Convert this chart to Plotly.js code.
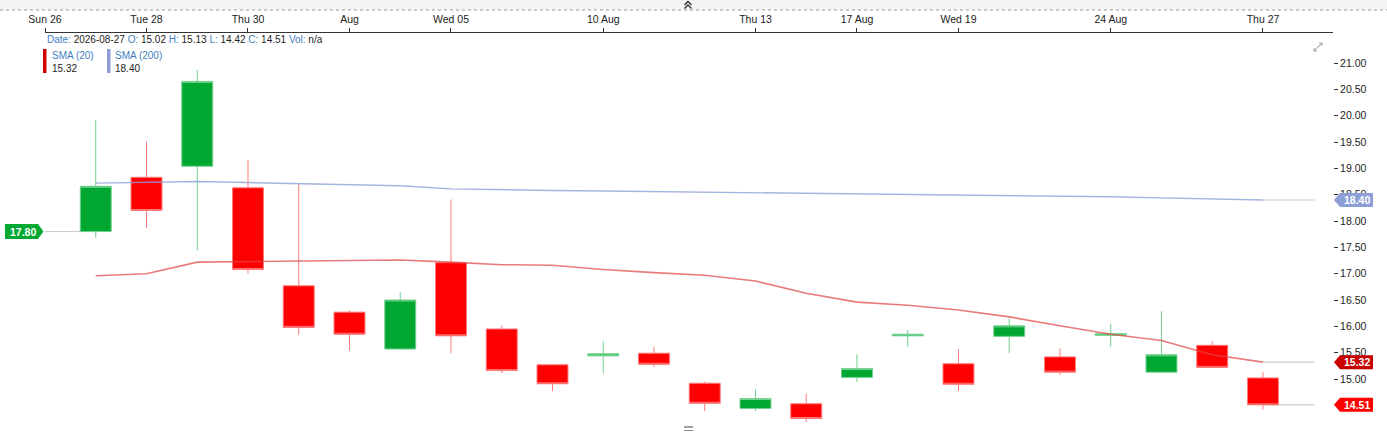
<!DOCTYPE html>
<html>
<head>
<meta charset="utf-8">
<script src="https://cdn.plot.ly/plotly-3.0.1.min.js"></script>
<style>
html,body{margin:0;padding:0;background:#fff;}
#chart{width:1387px;height:432px;}
</style>
</head>
<body>
<div id="chart"></div>
<script>
// ---- data ----
const slots = ['2026-07-26','2026-07-27','2026-07-28','2026-07-29','2026-07-30','2026-07-31',
  '2026-08-03','2026-08-04','2026-08-05','2026-08-06','2026-08-07',
  '2026-08-10','2026-08-11','2026-08-12','2026-08-13','2026-08-14',
  '2026-08-17','2026-08-18','2026-08-19','2026-08-20','2026-08-21',
  '2026-08-24','2026-08-25','2026-08-26','2026-08-27'];
const dates = slots.slice(1);
const openV  = [17.80,18.83,19.04,18.63,16.77,16.27,15.57,17.21,15.95,15.27,15.44,15.49,14.92,14.44,14.53,15.03,15.82,15.29,15.81,15.42,15.83,15.13,15.64,15.02];
const highV  = [19.92,19.51,20.87,19.16,18.70,16.30,16.65,18.41,16.01,15.28,15.72,15.61,14.95,14.80,14.72,15.47,15.93,15.57,16.15,15.58,16.05,16.29,15.72,15.13];
const lowV   = [17.68,17.87,17.44,17.00,15.84,15.54,15.55,15.49,15.11,14.77,15.11,15.23,14.39,14.39,14.18,14.94,15.61,14.77,15.49,15.08,15.61,15.12,15.21,14.42];
const closeV = [18.66,18.20,20.65,17.08,15.98,15.85,16.50,15.82,15.16,14.91,15.48,15.28,14.54,14.63,14.25,15.20,15.85,14.90,16.01,15.13,15.86,15.46,15.22,14.51];
const sma20  = [16.96,17.00,17.22,17.23,17.23,17.24,17.26,17.22,17.17,17.16,17.08,17.02,16.97,16.86,16.63,16.46,16.40,16.31,16.18,16.01,15.85,15.73,15.46,15.32];
const sma200 = [18.72,18.74,18.75,18.73,18.71,18.69,18.67,18.61,18.59,18.58,18.57,18.56,18.55,18.54,18.53,18.52,18.51,18.50,18.49,18.48,18.46,18.44,18.42,18.40];
const tickDates = ['2026-07-26','2026-07-28','2026-07-30','2026-08-03','2026-08-05','2026-08-10','2026-08-13','2026-08-17','2026-08-19','2026-08-24','2026-08-27'];
const tickText  = ['Sun 26','Tue 28','Thu 30','Aug','Wed 05','10 Aug','Thu 13','17 Aug','Wed 19','24 Aug','Thu 27'];
const yTicks = [15.0,15.5,16.0,16.5,17.0,17.5,18.0,18.5,19.0,19.5,20.0,20.5,21.0];

// ---- layout helpers ----
const L=45, R=1333, T=33, B=432;
const YMIN=13.994, YMAX=21.57;
const px = x => (x-L)/(R-L);
const py = y => (B-y)/(B-T);
const pv = v => (v-YMIN)/(YMAX-YMIN);
const idx = d => slots.indexOf(d);
const xs = dates.map(idx);
const n = dates.length;
const last = n-1;

const GREEN='#00a832', RED='#ff0000';
const LBL='#3f7fbf';
const FONT='Liberation Sans, Arial, sans-serif';

const traces = [
  {type:'candlestick', x:xs, open:openV, high:highV, low:lowV, close:closeV,
   increasing:{fillcolor:GREEN, line:{color:'#74d190', width:1}},
   decreasing:{fillcolor:RED, line:{color:'#ff7a7a', width:1}},
   whiskerwidth:0, hoverinfo:'skip', showlegend:false},
  {type:'scatter', mode:'lines', x:xs, y:sma20, line:{color:'rgba(225,70,70,0.72)', width:1.6}, hoverinfo:'skip', showlegend:false},
  {type:'scatter', mode:'lines', x:xs, y:sma200, line:{color:'rgba(140,160,215,0.8)', width:1.4}, hoverinfo:'skip', showlegend:false}
];

const shapes = [];
const annotations = [];

// top band + dashed line
shapes.push({type:'rect', xref:'paper', yref:'paper', x0:px(0), x1:px(1387), y0:py(10), y1:py(0), fillcolor:'#f4f4f4', line:{width:0}, layer:'below'});
shapes.push({type:'line', xref:'paper', yref:'paper', x0:px(0), x1:px(1387), y0:py(10), y1:py(10), line:{color:'#999', width:1, dash:'3px,3px'}});
// chevrons
shapes.push({type:'path', xref:'paper', yref:'paper',
  path:`M${px(684.5)},${py(5)} L${px(688)},${py(1.5)} L${px(691.5)},${py(5)} M${px(684.5)},${py(8.5)} L${px(688)},${py(5)} L${px(691.5)},${py(8.5)}`,
  line:{color:'#333', width:1.4}});
// bottom handle
shapes.push({type:'line', xref:'paper', yref:'paper', x0:px(684), x1:px(693), y0:py(427), y1:py(427), line:{color:'#444', width:1}});
shapes.push({type:'line', xref:'paper', yref:'paper', x0:px(684), x1:px(693), y0:py(430.5), y1:py(430.5), line:{color:'#888', width:1}});
// expand icon
shapes.push({type:'path', xref:'paper', yref:'paper',
  path:`M${px(1314)},${py(51)} L${px(1322)},${py(43)} M${px(1314)},${py(51)} L${px(1314)},${py(48)} M${px(1314)},${py(51)} L${px(1317)},${py(51)} M${px(1322)},${py(43)} L${px(1319)},${py(43)} M${px(1322)},${py(43)} L${px(1322)},${py(46)}`,
  line:{color:'#999', width:1}});

// legend bars
shapes.push({type:'rect', xref:'paper', yref:'paper', x0:px(43), x1:px(46.5), y0:py(73), y1:py(49), fillcolor:'#d00000', line:{width:0}});
shapes.push({type:'rect', xref:'paper', yref:'paper', x0:px(107), x1:px(110.5), y0:py(73), y1:py(49), fillcolor:'#8c9fd6', line:{width:0}});

// price extension lines
const extLine = v => ({type:'line', xref:'x', yref:'y', x0:xs[last], x1:xs[last]+1.02, y0:v, y1:v, line:{color:'#d8d8d8', width:1.5}, layer:'below'});
shapes.push(extLine(sma200[last]));
shapes.push(extLine(sma20[last]));
shapes.push(extLine(closeV[last]));
shapes.push({type:'line', xref:'x', yref:'y', x0:-0.04, x1:xs[0], y0:openV[0], y1:openV[0], line:{color:'#c8c8c8', width:1}, layer:'below'});

// right badges
function rightBadge(v, color){
  const yc = pv(v), h = 7/(B-T);
  shapes.push({type:'path', xref:'paper', yref:'paper',
    path:`M${px(1334)},${yc} L${px(1340)},${yc+h} L${px(1373)},${yc+h} L${px(1373)},${yc-h} L${px(1340)},${yc-h} Z`,
    fillcolor:color, line:{width:0}});
  annotations.push({xref:'paper', yref:'paper', x:px(1356.5), y:yc, text:'<b>'+v.toFixed(2)+'</b>', showarrow:false,
    xanchor:'center', yanchor:'middle', font:{family:FONT, size:10.5, color:'#fff'}});
}
rightBadge(sma200[last], '#8c9fd6');
rightBadge(sma20[last], '#c80000');
rightBadge(closeV[last], '#ff0000');

// left badge
(function(){
  const v = openV[0], yc = pv(v), h = 7.5/(B-T);
  shapes.push({type:'path', xref:'paper', yref:'paper',
    path:`M${px(5)},${yc+h} L${px(38)},${yc+h} L${px(43.5)},${yc} L${px(38)},${yc-h} L${px(5)},${yc-h} Z`,
    fillcolor:GREEN, line:{width:0}});
  annotations.push({xref:'paper', yref:'paper', x:px(22.5), y:yc, text:'<b>'+v.toFixed(2)+'</b>', showarrow:false,
    xanchor:'center', yanchor:'middle', font:{family:FONT, size:10.5, color:'#fff'}});
})();

// header text
const lb = s => `<span style="color:${LBL}">${s}</span>`;
annotations.push({xref:'paper', yref:'paper', x:px(45), y:py(39.5), xanchor:'left', yanchor:'middle', showarrow:false,
  text: `${lb('Date:')} ${dates[last]} ${lb('O:')} ${openV[last].toFixed(2)} ${lb('H:')} ${highV[last].toFixed(2)} ${lb('L:')} ${lowV[last].toFixed(2)} ${lb('C:')} ${closeV[last].toFixed(2)} ${lb('Vol:')} n/a`,
  font:{family:FONT, size:10, color:'#222'}});
// legend texts
const legTxt = (x, y, t, c) => annotations.push({xref:'paper', yref:'paper', x:px(x), y:py(y), xanchor:'left', yanchor:'middle', showarrow:false,
  text:t, font:{family:FONT, size:10, color:c}});
legTxt(49.5, 55, 'SMA (20)', LBL);
legTxt(49.5, 68, sma20[last].toFixed(2), '#222');
legTxt(112.5, 55, 'SMA (200)', LBL);
legTxt(112.5, 68, sma200[last].toFixed(2), '#222');

const layout = {
  width:1387, height:432,
  margin:{l:L, r:1387-R, t:T, b:0, pad:0},
  paper_bgcolor:'#fff', plot_bgcolor:'#fff',
  showlegend:false,
  boxgap:0.39, boxgroupgap:0,
  xaxis:{type:'linear', range:[0, 25.38], side:'top', showgrid:false, zeroline:false,
    showline:true, linecolor:'#333', linewidth:1.5,
    tickvals: tickDates.map(idx), ticktext: tickText,
    ticks:'outside', ticklen:4, tickcolor:'#333', tickwidth:1,
    tickfont:{family:FONT, size:10.5, color:'#222'},
    rangeslider:{visible:false}, fixedrange:true},
  yaxis:{range:[YMIN, YMAX], side:'right', showgrid:false, zeroline:false, showline:false,
    tickvals:yTicks, tickformat:'.2f',
    ticks:'outside', ticklen:4, tickcolor:'#333', tickwidth:1,
    tickfont:{family:FONT, size:10.5, color:'#222'},
    fixedrange:true},
  shapes: shapes,
  annotations: annotations
};

Plotly.newPlot('chart', traces, layout, {displayModeBar:false, staticPlot:true});
</script>
</body>
</html>
